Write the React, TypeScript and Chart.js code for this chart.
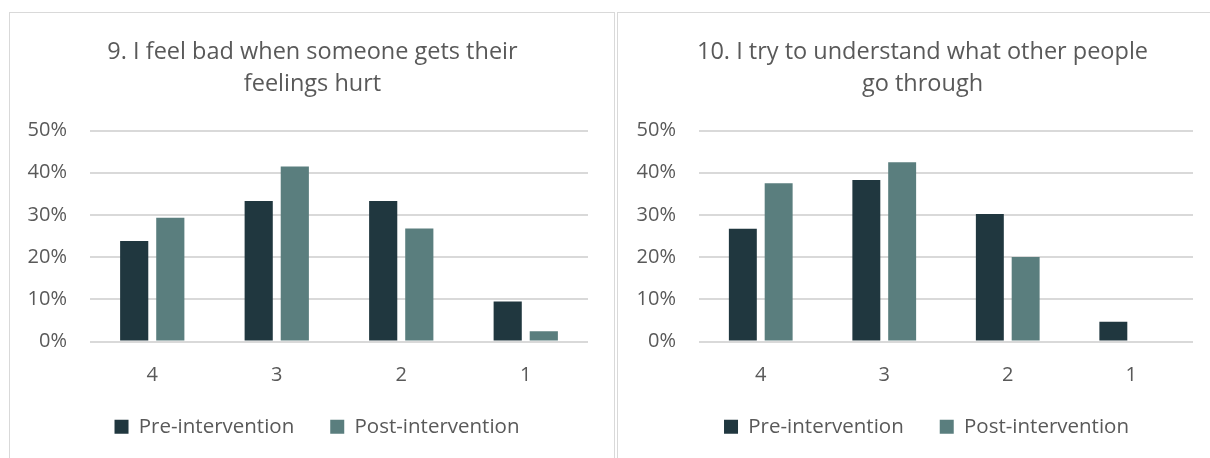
import React, { useEffect, useRef } from "react";
import { Chart, registerables } from "chart.js";

Chart.register(...registerables);

const categories = ["4", "3", "2", "1"];
const seriesNames = ["Pre-intervention", "Post-intervention"];
const q9Title = ["9. I feel bad when someone gets their", "feelings hurt"];
const q9Pre = [23.8, 33.3, 33.3, 9.5];
const q9Post = [29.3, 41.5, 26.8, 2.4];
const q10Title = ["10. I try to understand what other people", "go through"];
const q10Pre = [26.7, 38.3, 30.2, 4.7];
const q10Post = [37.5, 42.5, 20.0, 0];
const yMax = 50;
const yStep = 10;

const PRE_COLOR = "#20373f";
const POST_COLOR = "#5a7e7e";
const TEXT_COLOR = "#595959";
const GRID_COLOR = "#d9d9d9";
const BORDER_COLOR = "#d9d9d9";
const FONT = "'Open Sans', sans-serif";

const shiftPlugin = {
  id: "shiftBoxes",
  afterLayout(chart: any, _args: any, opts: any) {
    const dxT = opts.titleDx || 0;
    const dxL = opts.legendDx || 0;
    const dyL = opts.legendDy || 0;
    if (chart.titleBlock) {
      chart.titleBlock.left += dxT;
      chart.titleBlock.right += dxT;
    }
    if (chart.legend) {
      chart.legend.left += dxL;
      chart.legend.right += dxL;
      chart.legend.top += dyL;
      chart.legend.bottom += dyL;
    }
  },
};

type PanelProps = {
  title: string[];
  pre: number[];
  post: number[];
  left: number;
  width: number;
  yWidth: number;
  padRight: number;
  titleDx: number;
  legendDx: number;
};

function Panel({ title, pre, post, left, width, yWidth, padRight, titleDx, legendDx }: PanelProps) {
  const ref = useRef<HTMLCanvasElement>(null);
  const canvasW = width - 2;
  const canvasH = 443;

  useEffect(() => {
    if (!ref.current) return;
    const chart = new Chart(ref.current, {
      type: "bar",
      data: {
        labels: categories,
        datasets: [
          {
            label: seriesNames[0],
            data: pre,
            backgroundColor: PRE_COLOR,
            borderWidth: 0,
            categoryPercentage: 0.58,
            barPercentage: 0.78,
          },
          {
            label: seriesNames[1],
            data: post,
            backgroundColor: POST_COLOR,
            borderWidth: 0,
            categoryPercentage: 0.58,
            barPercentage: 0.78,
          },
        ],
      },
      plugins: [shiftPlugin],
      options: {
        responsive: false,
        animation: false,
        layout: { padding: { left: 0, right: padRight, top: 0, bottom: 0 } },
        plugins: {
          shiftBoxes: { titleDx, legendDx, legendDy: -9 },
          tooltip: { enabled: false },
          title: {
            display: true,
            text: title,
            color: TEXT_COLOR,
            font: { family: FONT, size: 23.5, weight: "normal", lineHeight: 1.362 },
            padding: { top: 23, bottom: 30.5 },
          },
          legend: {
            display: true,
            position: "bottom",
            labels: {
              boxWidth: 14,
              boxHeight: 14,
              padding: 36,
              color: TEXT_COLOR,
              font: { family: FONT, size: 20.5 },
            },
          },
        } as any,
        scales: {
          x: {
            grid: { display: false, drawTicks: false },
            border: { display: false },
            ticks: {
              color: TEXT_COLOR,
              font: { family: FONT, size: 20 },
              padding: 22,
            },
            afterFit(scale: any) {
              scale.height = 48;
            },
          },
          y: {
            min: 0,
            max: yMax,
            grid: { color: GRID_COLOR, lineWidth: 2, drawTicks: false },
            border: { display: false },
            ticks: {
              stepSize: yStep,
              color: TEXT_COLOR,
              font: { family: FONT, size: 20 },
              padding: 23,
              callback: (v: any) => `${v}%`,
            },
            afterFit(scale: any) {
              scale.width = yWidth;
            },
          },
        },
      },
    });
    return () => chart.destroy();
  }, []);

  return (
    <div
      style={{
        position: "absolute",
        left,
        top: 12,
        width,
        height: 470,
        border: `1px solid ${BORDER_COLOR}`,
        boxSizing: "border-box",
        background: "#fff",
      }}
    >
      <canvas ref={ref} width={canvasW} height={canvasH} style={{ display: "block", width: canvasW, height: canvasH }} />
    </div>
  );
}

export default function App() {
  return (
    <div style={{ position: "absolute", left: 0, top: 0, width: 1210, height: 458, overflow: "hidden", background: "#fff" }}>
      <Panel title={q9Title} pre={q9Pre} post={q9Post} left={9} width={606} yWidth={80} padRight={26} titleDx={13.5} legendDx={18} />
      <Panel title={q10Title} pre={q10Pre} post={q10Post} left={617} width={600} yWidth={81} padRight={23} titleDx={17} legendDx={21} />
    </div>
  );
}
